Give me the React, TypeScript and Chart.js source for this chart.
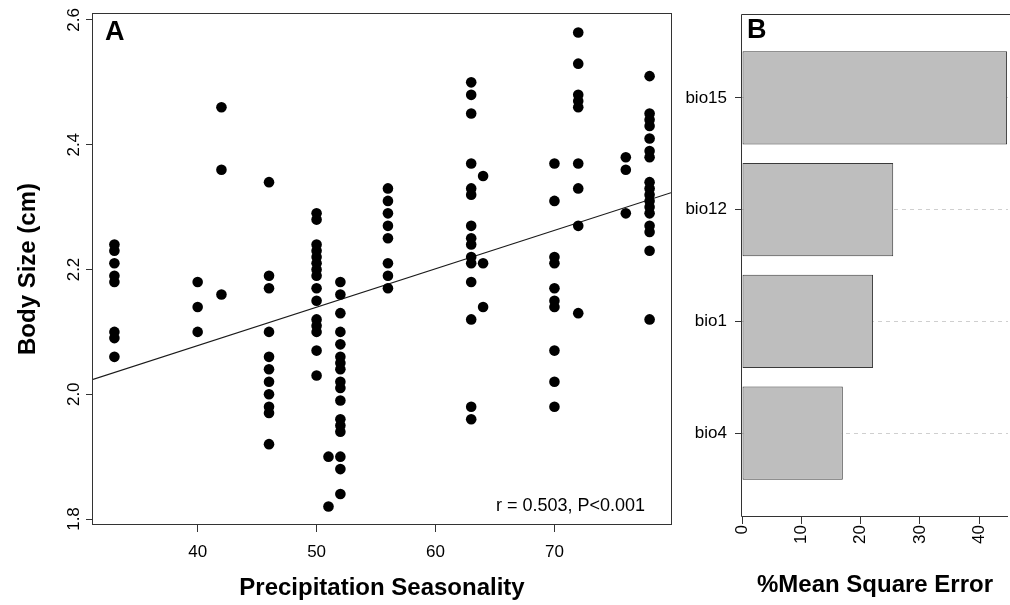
import React, { useEffect, useRef } from 'react';
import { Chart, registerables } from 'chart.js';

Chart.register(...registerables);

// ---------- Panel A data ----------
const precipitationColumns = [33, 40, 42, 46, 50, 51, 52, 56, 63, 64, 70, 72, 76, 78];
const bodySize33 = [2.24, 2.23, 2.21, 2.19, 2.18, 2.1, 2.09, 2.06];
const bodySize40 = [2.18, 2.14, 2.1];
const bodySize42 = [2.46, 2.36, 2.16];
const bodySize46 = [2.34, 2.19, 2.17, 2.1, 2.06, 2.04, 2.02, 2.0, 1.98, 1.97, 1.92];
const bodySize50 = [2.29, 2.28, 2.24, 2.23, 2.22, 2.21, 2.2, 2.19, 2.17, 2.15, 2.12, 2.11, 2.1, 2.07, 2.03];
const bodySize51 = [1.9, 1.82];
const bodySize52 = [2.18, 2.16, 2.13, 2.1, 2.08, 2.06, 2.05, 2.04, 2.02, 2.01, 1.99, 1.96, 1.95, 1.94, 1.9, 1.88, 1.84];
const bodySize56 = [2.33, 2.31, 2.29, 2.27, 2.25, 2.21, 2.19, 2.17];
const bodySize63 = [2.5, 2.48, 2.45, 2.37, 2.33, 2.32, 2.27, 2.25, 2.24, 2.22, 2.21, 2.18, 2.12, 1.98, 1.96];
const bodySize64 = [2.35, 2.21, 2.14];
const bodySize70 = [2.37, 2.31, 2.22, 2.21, 2.17, 2.15, 2.14, 2.07, 2.02, 1.98];
const bodySize72 = [2.58, 2.53, 2.48, 2.47, 2.46, 2.37, 2.33, 2.27, 2.13];
const bodySize76 = [2.38, 2.36, 2.29];
const bodySize78 = [2.51, 2.45, 2.44, 2.43, 2.41, 2.39, 2.38, 2.34, 2.33, 2.32, 2.31, 2.3, 2.29, 2.27, 2.26, 2.23, 2.12];
const bodySizeColumns = [
  bodySize33, bodySize40, bodySize42, bodySize46, bodySize50, bodySize51, bodySize52,
  bodySize56, bodySize63, bodySize64, bodySize70, bodySize72, bodySize76, bodySize78,
];
const regressionIntercept = 1.8316;
const regressionSlope = 0.00616;
const xTickValuesA = [40, 50, 60, 70];
const xTickLabelsA = ['40', '50', '60', '70'];
const yTickValuesA = [1.8, 2.0, 2.2, 2.4, 2.6];
const yTickLabelsA = ['1.8', '2.0', '2.2', '2.4', '2.6'];
const annotationA = 'r = 0.503, P<0.001';

// ---------- Panel B data ----------
const predictors = ['bio15', 'bio12', 'bio1', 'bio4'];
const mseIncrease = [44.7, 25.5, 22.1, 17.0];
const xTickValuesB = [0, 10, 20, 30, 40];
const xTickLabelsB = ['0', '10', '20', '30', '40'];

const FONT = "'Liberation Sans', Arial, Helvetica, sans-serif";
const X_MIN_A = 31.2;
const X_MAX_A = 79.8;
const B_LEFT = 660;

function ScatterPanel() {
  const ref = useRef<HTMLCanvasElement | null>(null);
  useEffect(() => {
    const points: { x: number; y: number }[] = [];
    precipitationColumns.forEach((x, i) => {
      bodySizeColumns[i].forEach((y) => points.push({ x, y }));
    });
    const fit = [X_MIN_A, X_MAX_A].map((x) => ({ x, y: regressionIntercept + regressionSlope * x }));

    const framePlugin = {
      id: 'frameA',
      afterDraw(chart: any) {
        const { ctx, chartArea: a } = chart;
        ctx.save();
        ctx.strokeStyle = '#333';
        ctx.lineWidth = 1;
        ctx.strokeRect(Math.round(a.left) - 0.5, Math.round(a.top) + 0.5, Math.round(a.right - a.left) + 1, Math.round(a.bottom - a.top) - 1);
        ctx.fillStyle = '#000';
        ctx.font = `bold 27px ${FONT}`;
        ctx.textAlign = 'left';
        ctx.textBaseline = 'alphabetic';
        ctx.fillText('A', 105, 40);
        ctx.font = `18px ${FONT}`;
        ctx.textAlign = 'right';
        ctx.fillText(annotationA, 645, 511);
        ctx.restore();
      },
    };

    const chart = new Chart(ref.current as HTMLCanvasElement, {
      type: 'scatter',
      data: {
        datasets: [
          {
            data: points,
            pointRadius: 5.3,
            pointHoverRadius: 5.3,
            backgroundColor: '#000',
            borderWidth: 0,
          },
          {
            type: 'line',
            data: fit,
            borderColor: '#1a1a1a',
            borderWidth: 1.1,
            pointRadius: 0,
            fill: false,
            showLine: true,
          } as any,
        ],
      },
      options: {
        animation: false,
        responsive: false,
        devicePixelRatio: 1,
        layout: { padding: { top: 13, right: 19, left: 0, bottom: 0 } },
        plugins: { legend: { display: false }, tooltip: { enabled: false } },
        scales: {
          x: {
            type: 'linear',
            min: X_MIN_A,
            max: X_MAX_A,
            afterBuildTicks: (s: any) => {
              s.ticks = xTickValuesA.map((v) => ({ value: v }));
            },
            afterFit: (s: any) => {
              s.height = 80;
              s.paddingLeft = 0;
              s.paddingRight = 0;
            },
            border: { display: false },
            grid: { drawOnChartArea: false, drawTicks: true, tickLength: 7, tickColor: '#333', tickWidth: 1 },
            ticks: {
              autoSkip: false,
              maxRotation: 0,
              minRotation: 0,
              padding: 10,
              color: '#000',
              font: { family: FONT, size: 17 },
              callback: (v: any) => xTickLabelsA[xTickValuesA.indexOf(v)],
            },
            title: {
              display: true,
              text: 'Precipitation Seasonality',
              color: '#000',
              font: { family: FONT, size: 24, weight: 'bold' },
              padding: { top: 0, bottom: 2 },
            },
          },
          y: {
            type: 'linear',
            min: 1.7904,
            max: 2.6112,
            afterBuildTicks: (s: any) => {
              s.ticks = yTickValuesA.map((v) => ({ value: v }));
            },
            afterFit: (s: any) => {
              s.width = 93;
              s.paddingTop = 0;
              s.paddingBottom = 0;
            },
            border: { display: false },
            grid: { drawOnChartArea: false, drawTicks: true, tickLength: 7, tickColor: '#333', tickWidth: 1 },
            ticks: {
              autoSkip: false,
              minRotation: 90,
              maxRotation: 90,
              crossAlign: 'center',
              padding: 0,
              color: '#000',
              font: { family: FONT, size: 17 },
              callback: (v: any) => yTickLabelsA[yTickValuesA.indexOf(v)],
            },
            title: {
              display: true,
              text: 'Body Size (cm)',
              color: '#000',
              font: { family: FONT, size: 24, weight: 'bold' },
              padding: { top: 14, bottom: 0 },
            },
          },
        },
      } as any,
      plugins: [framePlugin],
    });
    return () => chart.destroy();
  }, []);
  return (
    <canvas
      ref={ref}
      width={690}
      height={605}
      style={{ position: 'absolute', left: 0, top: 0, width: 690, height: 605 }}
    />
  );
}

function BarPanel() {
  const ref = useRef<HTMLCanvasElement | null>(null);
  useEffect(() => {
    const bars = predictors.map((_, i) => ({ x: mseIncrease[i], y: i }));
    const framePlugin = {
      id: 'frameB',
      afterDraw(chart: any) {
        const { ctx, chartArea: a, width } = chart;
        ctx.save();
        ctx.strokeStyle = '#333';
        ctx.lineWidth = 1;
        const l = Math.round(a.left) - 0.5;
        const t = Math.round(a.top) + 0.5;
        const b = Math.round(a.bottom) - 0.5;
        ctx.beginPath();
        ctx.moveTo(width, t);
        ctx.lineTo(l, t);
        ctx.lineTo(l, b);
        ctx.lineTo(a.right, b);
        ctx.stroke();
        ctx.fillStyle = '#000';
        ctx.font = `bold 27px ${FONT}`;
        ctx.textAlign = 'left';
        ctx.textBaseline = 'alphabetic';
        ctx.fillText('B', 747 - B_LEFT, 38);
        ctx.restore();
      },
    };
    const chart = new Chart(ref.current as HTMLCanvasElement, {
      type: 'bar',
      data: {
        datasets: [
          {
            data: bars,
            backgroundColor: '#bebebe',
            borderColor: '#3a3a3a',
            borderWidth: 1,
            borderSkipped: false,
            categoryPercentage: 1,
            barPercentage: 0.833,
          },
        ],
      },
      options: {
        indexAxis: 'y',
        animation: false,
        responsive: false,
        devicePixelRatio: 1,
        layout: { padding: { top: 14, right: 2, left: 0, bottom: 0 } },
        plugins: { legend: { display: false }, tooltip: { enabled: false } },
        scales: {
          x: {
            type: 'linear',
            min: 0,
            max: 44.86,
            afterBuildTicks: (s: any) => {
              s.ticks = xTickValuesB.map((v) => ({ value: v }));
            },
            afterFit: (s: any) => {
              s.height = 88;
              s.paddingLeft = 0;
              s.paddingRight = 0;
            },
            border: { display: false },
            grid: { drawOnChartArea: false, drawTicks: true, tickLength: 7, tickColor: '#333', tickWidth: 1 },
            ticks: {
              autoSkip: false,
              minRotation: 90,
              maxRotation: 90,
              padding: 1,
              color: '#000',
              font: { family: FONT, size: 17 },
              callback: (v: any) => xTickLabelsB[xTickValuesB.indexOf(v)],
            },
            title: {
              display: true,
              text: '%Mean Square Error',
              color: '#000',
              font: { family: FONT, size: 24, weight: 'bold' },
              padding: { top: 0, bottom: 5 },
            },
          },
          y: {
            type: 'linear',
            reverse: true,
            offset: false,
            min: -0.75,
            max: 3.75,
            afterBuildTicks: (s: any) => {
              s.ticks = predictors.map((_, i) => ({ value: i }));
            },
            afterFit: (s: any) => {
              s.width = 742 - B_LEFT;
              s.paddingTop = 0;
              s.paddingBottom = 0;
            },
            border: { display: false, dash: [4, 4] },
            grid: {
              offset: false,
              drawOnChartArea: true,
              color: '#cfcfcf',
              lineWidth: 1,
              drawTicks: true,
              tickLength: 7,
              tickColor: '#333',
              tickWidth: 1,
            },
            ticks: {
              autoSkip: false,
              padding: 8,
              color: '#000',
              font: { family: FONT, size: 17 },
              callback: (v: any) => predictors[v],
            },
          },
        },
      } as any,
      plugins: [framePlugin],
    });
    return () => chart.destroy();
  }, []);
  return (
    <canvas
      ref={ref}
      width={1010 - B_LEFT}
      height={605}
      style={{ position: 'absolute', left: B_LEFT, top: 0, width: 1010 - B_LEFT, height: 605 }}
    />
  );
}

export default function App() {
  return (
    <div
      style={{
        position: 'fixed',
        left: 0,
        top: 0,
        width: 1010,
        height: 605,
        background: '#fff',
        overflow: 'hidden',
      }}
    >
      <ScatterPanel />
      <BarPanel />
    </div>
  );
}
